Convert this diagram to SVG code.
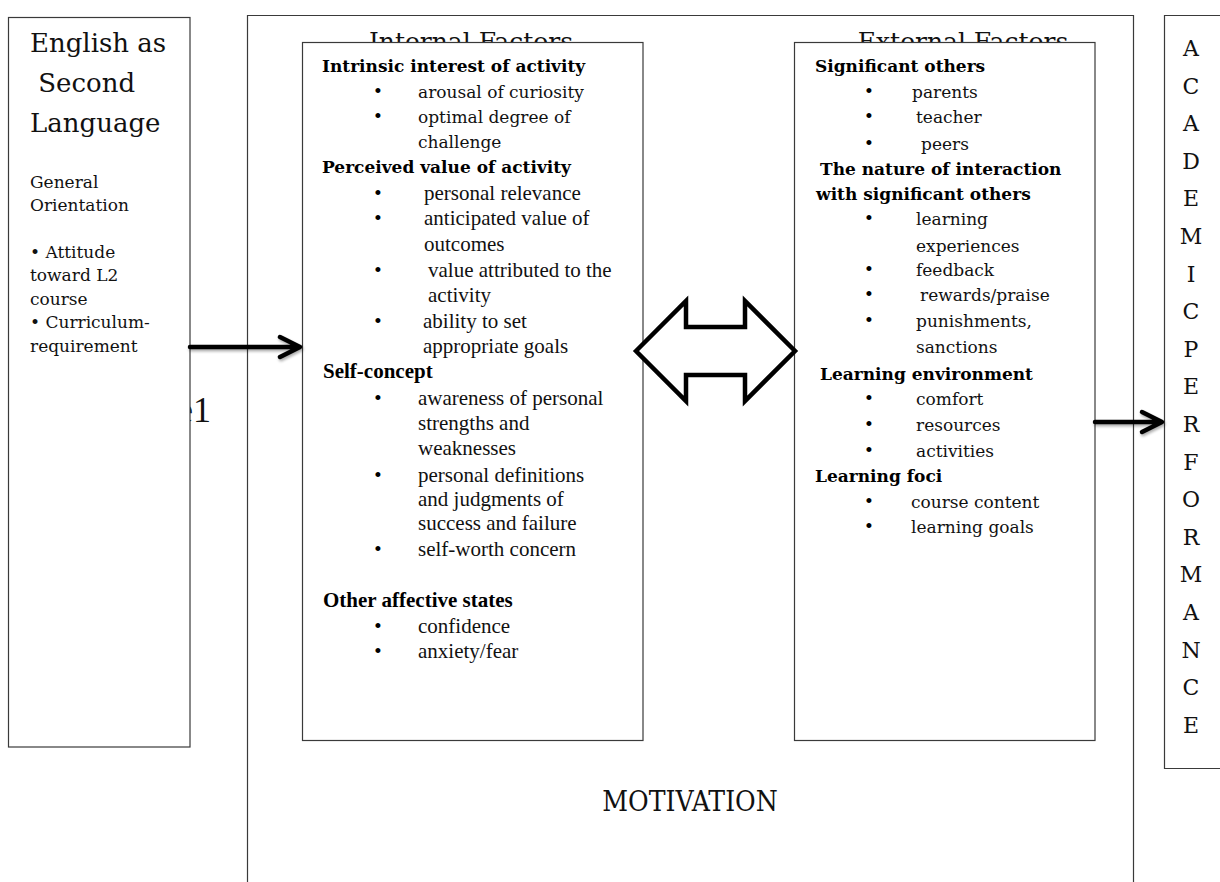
<svg xmlns="http://www.w3.org/2000/svg" width="1220" height="882" viewBox="0 0 1220 882">
<defs>
<style>
.box{fill:#fff;stroke:#3a3a3a;stroke-width:1.2}
.c{font-family:"DejaVu Serif","Liberation Serif",serif;font-size:17px;fill:#111}
.cb{font-family:"DejaVu Serif","Liberation Serif",serif;font-size:17px;font-weight:bold;fill:#000}
.t{font-family:"Liberation Serif","Times New Roman",serif;font-size:21px;fill:#111}
.tb{font-family:"Liberation Serif","Times New Roman",serif;font-size:21px;font-weight:bold;fill:#000}
.bi{font-family:"Liberation Serif",serif;font-size:21px;fill:#000;text-anchor:middle}
.big{font-family:"DejaVu Serif","Liberation Serif",serif;font-size:26px;fill:#111}
.title{font-family:"DejaVu Serif","Liberation Serif",serif;font-size:25px;fill:#111;text-anchor:middle}
.let{font-family:"DejaVu Serif","Liberation Serif",serif;font-size:22px;fill:#111;text-anchor:middle}
.arr{fill:none;stroke:#000;stroke-width:4.5;stroke-linecap:round;stroke-linejoin:round}
</style>
<filter id="sh" x="-20%" y="-50%" width="140%" height="200%">
<feGaussianBlur in="SourceAlpha" stdDeviation="1.5"/>
<feOffset dx="1" dy="2" result="b"/>
<feComponentTransfer><feFuncA type="linear" slope="0.35"/></feComponentTransfer>
<feMerge><feMergeNode/><feMergeNode in="SourceGraphic"/></feMerge>
</filter>
</defs>
<rect width="1220" height="882" fill="#fff"/>

<g id="node-motivation">
<path class="box" d="M247.5,883 V15.5 H1133.5 V883"/>
<text class="title" x="471" y="50">Internal Factors</text>
<text class="title" x="963" y="50">External Factors</text>
<text x="690" y="811" font-family="DejaVu Serif Condensed, DejaVu Serif, serif" font-stretch="condensed" font-size="28" fill="#111" text-anchor="middle">MOTIVATION</text>
</g>

<text x="211" y="422" font-family="Liberation Serif, serif" font-size="36" fill="#111" text-anchor="end">e1</text>

<g id="node-esl">
<rect class="box" x="8.5" y="17.5" width="181.5" height="729.5"/>
<text class="big" x="30" y="52">English as</text>
<text class="big" x="30" y="92" xml:space="preserve"> Second</text>
<text class="big" x="30" y="132">Language</text>
<text class="c" x="30" y="188">General</text>
<text class="c" x="30" y="211">Orientation</text>
<text class="c" x="30" y="258">• Attitude</text>
<text class="c" x="30" y="281">toward L2</text>
<text class="c" x="30" y="305">course</text>
<text class="c" x="30" y="328">• Curriculum-</text>
<text class="c" x="30" y="352">requirement</text>
</g>

<g id="node-internal">
<rect class="box" x="302.5" y="42.5" width="340.5" height="698"/>
<text class="cb" x="322" y="72">Intrinsic interest of activity</text>
<text class="bi" x="378" y="98">•</text><text class="c" x="418" y="98">arousal of curiosity</text>
<text class="bi" x="378" y="123">•</text><text class="c" x="418" y="123">optimal degree of</text>
<text class="c" x="418" y="148">challenge</text>
<text class="cb" x="322" y="173">Perceived value of activity</text>
<text class="bi" x="378" y="200">•</text><text class="t" x="424" y="200">personal relevance</text>
<text class="bi" x="378" y="225">•</text><text class="t" x="424" y="225">anticipated value of</text>
<text class="t" x="424" y="251">outcomes</text>
<text class="bi" x="378" y="277">•</text><text class="t" x="428" y="277">value attributed to the</text>
<text class="t" x="428" y="302">activity</text>
<text class="bi" x="378" y="328">•</text><text class="t" x="423" y="328">ability to set</text>
<text class="t" x="423" y="353">appropriate goals</text>
<text class="tb" x="323" y="378">Self-concept</text>
<text class="bi" x="378" y="405">•</text><text class="t" x="418" y="405">awareness of personal</text>
<text class="t" x="418" y="430">strengths and</text>
<text class="t" x="418" y="455">weaknesses</text>
<text class="bi" x="378" y="482">•</text><text class="t" x="418" y="482">personal definitions</text>
<text class="t" x="418" y="506">and judgments of</text>
<text class="t" x="418" y="530">success and failure</text>
<text class="bi" x="378" y="556">•</text><text class="t" x="418" y="556">self-worth concern</text>
<text class="tb" x="323" y="607">Other affective states</text>
<text class="bi" x="378" y="633">•</text><text class="t" x="418" y="633">confidence</text>
<text class="bi" x="378" y="658">•</text><text class="t" x="418" y="658">anxiety/fear</text>
</g>

<g id="node-external">
<rect class="box" x="794.5" y="42.5" width="300.5" height="698"/>
<text class="cb" x="815" y="72">Significant others</text>
<text class="bi" x="869" y="98">•</text><text class="c" x="912" y="98">parents</text>
<text class="bi" x="869" y="123">•</text><text class="c" x="916" y="123">teacher</text>
<text class="bi" x="869" y="150">•</text><text class="c" x="921" y="150">peers</text>
<text class="cb" x="820" y="175">The nature of interaction</text>
<text class="cb" x="816" y="200">with significant others</text>
<text class="bi" x="869" y="225">•</text><text class="c" x="916" y="225">learning</text>
<text class="c" x="916" y="252">experiences</text>
<text class="bi" x="869" y="276">•</text><text class="c" x="916" y="276">feedback</text>
<text class="bi" x="869" y="301">•</text><text class="c" x="920" y="301">rewards/praise</text>
<text class="bi" x="869" y="327">•</text><text class="c" x="916" y="327">punishments,</text>
<text class="c" x="916" y="353">sanctions</text>
<text class="cb" x="820" y="380">Learning environment</text>
<text class="bi" x="869" y="405">•</text><text class="c" x="916" y="405">comfort</text>
<text class="bi" x="869" y="431">•</text><text class="c" x="916" y="431">resources</text>
<text class="bi" x="869" y="457">•</text><text class="c" x="916" y="457">activities</text>
<text class="cb" x="815" y="482">Learning foci</text>
<text class="bi" x="869" y="508">•</text><text class="c" x="911" y="508">course content</text>
<text class="bi" x="869" y="533">•</text><text class="c" x="911" y="533">learning goals</text>
</g>

<g id="node-performance">
<path class="box" d="M1221,15.5 H1164.5 V768.5 H1221"/>
<text class="let" x="1191" y="56">A</text>
<text class="let" x="1191" y="93.6">C</text>
<text class="let" x="1191" y="131.2">A</text>
<text class="let" x="1191" y="168.8">D</text>
<text class="let" x="1191" y="206.4">E</text>
<text class="let" x="1191" y="244">M</text>
<text class="let" x="1191" y="281.6">I</text>
<text class="let" x="1191" y="319.2">C</text>
<text class="let" x="1191" y="356.8">P</text>
<text class="let" x="1191" y="394.4">E</text>
<text class="let" x="1191" y="432">R</text>
<text class="let" x="1191" y="469.6">F</text>
<text class="let" x="1191" y="507.2">O</text>
<text class="let" x="1191" y="544.8">R</text>
<text class="let" x="1191" y="582.4">M</text>
<text class="let" x="1191" y="620">A</text>
<text class="let" x="1191" y="657.6">N</text>
<text class="let" x="1191" y="695.2">C</text>
<text class="let" x="1191" y="732.8">E</text>
</g>

<g id="connectors">
<g filter="url(#sh)">
<path class="arr" d="M190,347 H299 M280,337 L300,347 L280,357"/>
<path class="arr" d="M1095,422 H1161 M1142,412 L1162,422 L1142,432"/>
</g>
<path d="M636,351 L686,301 V327 H745 V301 L795,351 L745,401 V375 H686 V401 Z" fill="#fff" stroke="#000" stroke-width="4.5" stroke-linejoin="miter"/>
</g>
</svg>
